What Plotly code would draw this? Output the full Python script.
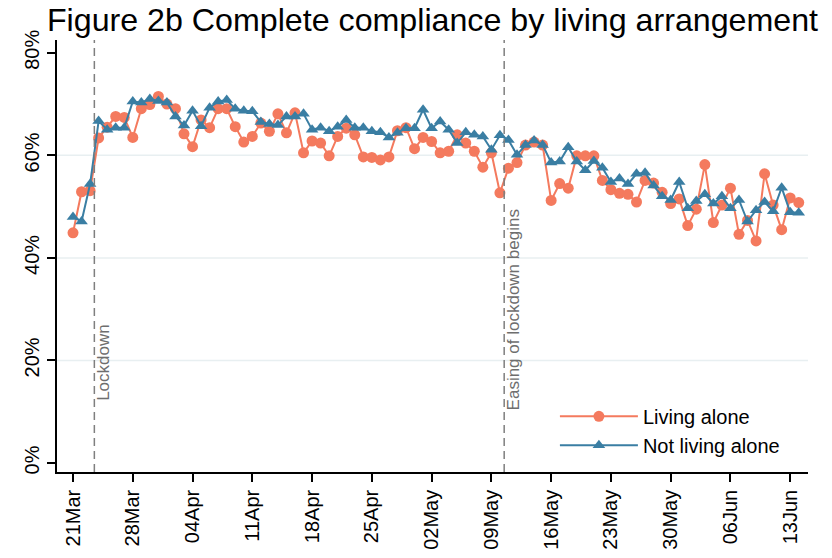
import pandas as pd
import plotly.graph_objects as go

# ============================================================
# Dados
# ============================================================
DATAS = pd.date_range("2020-03-21", periods=86, freq="D")

VIVE_SOZINHO = [
    44.9, 52.9, 53.1, 63.4, 65.5, 67.6, 67.4, 63.5, 69.1, 69.9,
    71.5, 70.0, 69.1, 64.2, 61.7, 66.9, 65.4, 69.1, 69.1, 65.6,
    62.6, 63.7, 66.3, 64.7, 68.1, 64.4, 68.3, 60.5, 62.8, 62.4,
    59.9, 63.7, 65.3, 64.0, 59.7, 59.6, 59.1, 59.7, 64.8, 65.4,
    61.3, 63.5, 62.7, 60.5, 60.8, 64.0, 62.4, 60.8, 57.7, 60.5,
    52.7, 57.5, 58.6, 62.0, 62.6, 62.0, 51.2, 54.5, 53.6, 59.9,
    59.9, 59.9, 55.1, 53.3, 52.6, 52.4, 50.9, 55.1, 54.6, 52.8,
    50.6, 51.5, 46.3, 49.5, 58.2, 46.9, 50.3, 53.6, 44.6, 47.3,
    43.3, 56.4, 50.3, 45.5, 51.7, 50.8,
]

NAO_VIVE_SOZINHO = [
    48.0, 47.1, 54.4, 66.7, 65.0, 65.4, 65.4, 70.5, 70.3, 71.0,
    70.6, 70.3, 67.6, 65.8, 68.7, 65.7, 69.3, 70.5, 70.8, 69.1,
    68.7, 68.6, 66.5, 66.1, 65.9, 67.6, 67.6, 68.1, 65.0, 65.4,
    64.7, 65.6, 66.9, 65.4, 65.4, 64.7, 64.5, 63.5, 64.4, 65.3,
    65.3, 68.9, 65.3, 66.6, 65.0, 62.4, 64.5, 64.0, 63.7, 61.1,
    63.9, 63.0, 60.1, 62.0, 62.9, 62.0, 58.6, 58.8, 61.6, 58.8,
    57.1, 58.9, 57.6, 54.8, 55.5, 54.4, 56.4, 56.6, 54.1, 52.0,
    51.3, 54.8, 49.7, 51.1, 52.4, 50.6, 52.0, 49.7, 51.3, 47.1,
    49.3, 50.9, 49.1, 53.7, 48.9, 48.8,
]

Y_TICKS = [0, 20, 40, 60, 80]
Y_TICKS_TEXTO = ["0%", "20%", "40%", "60%", "80%"]
GRADE_Y = [20, 40, 60]

EVENTOS = ["2020-03-23 12:00", "2020-05-10 12:00"]
EVENTOS_TEXTO = ["Lockdown", "Easing of lockdown begins"]

LARANJA = "#F47A5E"
AZUL = "#3A7EA3"
FONTE = "Liberation Sans, Arial, sans-serif"

LARGURA, ALTURA = 832, 558


# ============================================================
# Gráfico
# ============================================================
def grafico_compliance():
    fig = go.Figure()

    fig.add_trace(go.Scatter(
        x=DATAS, y=VIVE_SOZINHO, name="Living alone",
        mode="lines+markers",
        line=dict(color=LARANJA, width=2),
        marker=dict(symbol="circle", size=11, color=LARANJA),
    ))
    fig.add_trace(go.Scatter(
        x=DATAS, y=NAO_VIVE_SOZINHO, name="Not living alone",
        mode="lines+markers",
        line=dict(color=AZUL, width=2),
        marker=dict(symbol="triangle-up", size=11, color=AZUL),
    ))

    # linhas de grade horizontais (sem 0% e 80%)
    for g in GRADE_Y:
        fig.add_shape(type="line", xref="paper", x0=0, x1=1, yref="y", y0=g, y1=g,
                      line=dict(color="#E8EFF1", width=1.5), layer="below")

    # marcos: lockdown e flexibilização
    y_texto = [11.8, 9.9]
    for data, texto, yt in zip(EVENTOS, EVENTOS_TEXTO, y_texto):
        fig.add_shape(type="line", xref="x", x0=data, x1=data, yref="paper", y0=0, y1=1,
                      line=dict(color="#7F7F7F", width=1.5, dash="8px,5px"))
        fig.add_annotation(x=data, y=yt, text=texto, showarrow=False, textangle=-90,
                           xanchor="left", yanchor="bottom", xshift=-2,
                           font=dict(family=FONTE, size=17, color="#6E6E6E"))

    fig.update_layout(
        width=LARGURA, height=ALTURA,
        margin=dict(l=57, r=24, t=40, b=86),
        paper_bgcolor="white", plot_bgcolor="white",
        font=dict(family=FONTE, color="black"),
        title=dict(text="Figure 2b Complete compliance by living arrangement",
                   x=0.5, xref="paper", xanchor="center",
                   y=1 - 20 / ALTURA, yref="container", yanchor="middle",
                   font=dict(size=32.2, color="black")),
        showlegend=True,
        legend=dict(x=0.663, y=0.174, xanchor="left", yanchor="top",
                    bgcolor="rgba(0,0,0,0)", font=dict(size=20),
                    itemwidth=78, tracegroupgap=0),
    )
    fig.update_xaxes(
        range=["2020-03-19 03:00", "2020-06-15 02:00"],
        tick0="2020-03-21", dtick=7 * 86400000, tickformat="%d%b",
        tickangle=-90, ticks="outside", ticklen=8, tickwidth=1.5, tickcolor="black",
        tickfont=dict(size=20), automargin=False,
        showline=True, linecolor="black", linewidth=1.5,
        showgrid=False, zeroline=False,
    )
    fig.update_yaxes(
        range=[-1.76, 82.5], tickmode="array",
        tickvals=Y_TICKS, ticktext=Y_TICKS_TEXTO,
        tickangle=-90, ticks="outside", ticklen=8, tickwidth=1.5, tickcolor="black",
        tickfont=dict(size=20), automargin=False,
        showline=True, linecolor="black", linewidth=1.5,
        showgrid=False, zeroline=False,
    )
    return fig


fig = grafico_compliance()
# tira a margem padrão do body para a figura ocupar a janela toda
fig.write_html("out.html", config={"displayModeBar": False},
               post_script="document.body.style.margin = '0';")
